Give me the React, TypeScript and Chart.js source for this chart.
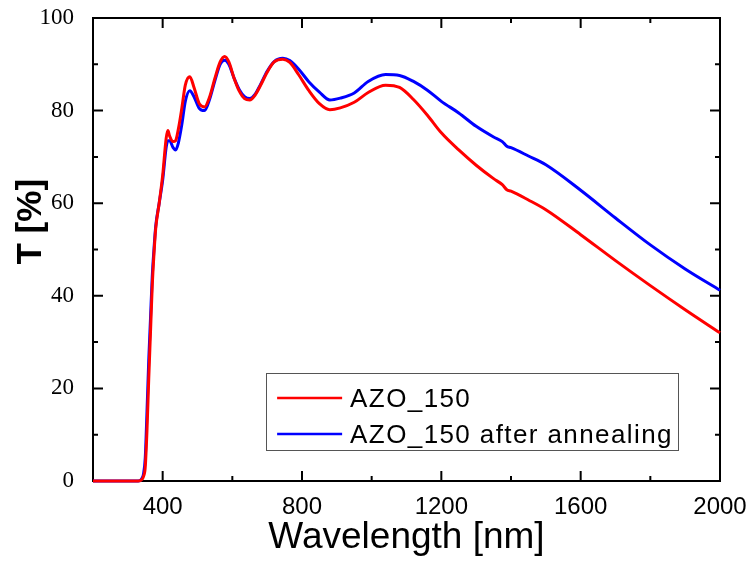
import React, { useEffect, useRef } from "react";
import { Chart, registerables } from "chart.js";

Chart.register(...registerables);

// Wavelength grid (nm)
const wavelengths = [
  200, 300, 330, 340, 345, 350, 355, 360, 365, 370, 375, 380, 390, 400, 410, 415, 420, 430, 437, 445,
  455, 465, 478, 490, 505, 520, 535, 550, 565, 578, 590, 605, 620, 635, 650, 665, 680, 700, 720, 745,
  765, 790, 820, 850, 880, 910, 950, 990, 1040, 1080, 1120, 1160, 1200, 1250, 1300, 1350, 1375, 1388,
  1400, 1450, 1500, 1600, 1700, 1800, 1900, 2000,
];

// Transmittance T [%] - AZO_150
const azo150 = [
  0, 0, 0, 0.3, 1, 3, 11, 22, 32, 42, 49, 54.5, 60, 66, 74, 75.7, 74.5, 73.3, 73.5, 76,
  80.5, 85.5, 87.3, 85, 81.5, 80.8, 83, 87, 90.5, 91.7, 90.5, 87, 84.2, 82.6, 82.3, 83.3, 85.3, 88.3, 90.5, 91.1,
  90.4, 87.8, 84.3, 81.5, 80.2, 80.6, 81.8, 83.9, 85.5, 85.0, 82.4, 79.0, 75.2, 71.5, 68.2, 65.3, 64.0, 62.9,
  62.6, 60.7, 58.6, 53.2, 47.6, 42.2, 37.0, 32.0,
];

// Transmittance T [%] - AZO_150 after annealing
const azo150Annealed = [
  0, 0, 0, 0.5, 1.5, 5, 15, 26, 35, 44, 50, 55, 60, 65, 72, 73.5, 73.5, 72, 71.5, 73,
  77, 82, 84.3, 83, 80.5, 80, 82.5, 86.5, 90, 90.9, 90, 87, 84.5, 83, 82.6, 83.5, 85.5, 88.5, 90.6, 91.3,
  90.8, 89.0, 86.2, 84.0, 82.3, 82.7, 83.8, 86.3, 87.8, 87.6, 86.3, 84.4, 82.0, 79.5, 76.6, 74.3, 73.3, 72.3,
  72.0, 70.2, 68.3, 62.8, 56.8, 51.0, 45.8, 41.2,
];

const seriesLabels = ["AZO_150", "AZO_150 after annealing"];
const seriesColors = ["#ff0000", "#0000ff"];

const xTickLabels = [400, 800, 1200, 1600, 2000];
const yTickLabels = [0, 20, 40, 60, 80, 100];

const xTitle = "Wavelength [nm]";
const yTitle = "T [%]";

const SANS = "'Liberation Sans', Arial, Helvetica, sans-serif";
const SERIF = "'Liberation Serif', 'Times New Roman', Times, serif";

const framePlugin = {
  id: "frameTicks",
  beforeDatasetsDraw(chart: any) {
    const { ctx, chartArea, scales } = chart;
    const { left, right, top, bottom } = chartArea;
    const xs = scales.x;
    const ys = scales.y;
    ctx.save();
    ctx.strokeStyle = "#000";
    ctx.lineWidth = 2;
    ctx.strokeRect(left, top, right - left, bottom - top);
    ctx.beginPath();
    for (let v = 200; v <= 2000; v += 200) {
      const px = xs.getPixelForValue(v);
      const len = xTickLabels.includes(v) ? 10 : 5;
      ctx.moveTo(px, bottom);
      ctx.lineTo(px, bottom - len);
      ctx.moveTo(px, top);
      ctx.lineTo(px, top + len);
    }
    for (let v = 0; v <= 100; v += 10) {
      const py = ys.getPixelForValue(v);
      const len = yTickLabels.includes(v) ? 10 : 5;
      ctx.moveTo(left, py);
      ctx.lineTo(left + len, py);
      ctx.moveTo(right, py);
      ctx.lineTo(right - len, py);
    }
    ctx.stroke();
    ctx.restore();
  },
  afterDraw(chart: any) {
    const { ctx, chartArea, scales } = chart;
    const { left, right, bottom } = chartArea;
    ctx.save();
    ctx.fillStyle = "#000";
    // X title
    ctx.font = `37px ${SANS}`;
    ctx.textAlign = "center";
    ctx.textBaseline = "alphabetic";
    ctx.fillText(xTitle, (left + right) / 2, bottom + 67);
    // Y title
    ctx.save();
    ctx.translate(31, scales.y.getPixelForValue(56));
    ctx.rotate(-Math.PI / 2);
    ctx.font = `bold 35px ${SANS}`;
    ctx.textAlign = "center";
    ctx.textBaseline = "middle";
    ctx.fillText(yTitle, 0, 0);
    ctx.restore();

    // Legend
    const bx = scales.x.getPixelForValue(697);
    const bx2 = scales.x.getPixelForValue(1880);
    const by = scales.y.getPixelForValue(23.3);
    const by2 = scales.y.getPixelForValue(6.7);
    ctx.strokeStyle = "#555";
    ctx.lineWidth = 1;
    ctx.strokeRect(Math.round(bx) + 0.5, Math.round(by) + 0.5, Math.round(bx2 - bx), Math.round(by2 - by));
    ctx.font = `26px ${SANS}`;
    (ctx as any).letterSpacing = "1.4px";
    ctx.textAlign = "left";
    ctx.textBaseline = "alphabetic";
    chart.data.datasets.forEach((ds: any, i: number) => {
      const baseline = by + 34 + i * 36;
      ctx.strokeStyle = ds.borderColor;
      ctx.lineWidth = 2.5;
      ctx.beginPath();
      ctx.moveTo(bx + 11, baseline - 9);
      ctx.lineTo(bx + 76, baseline - 9);
      ctx.stroke();
      ctx.fillStyle = "#000";
      ctx.fillText(ds.label, bx + 84, baseline);
    });
    ctx.restore();
  },
};

export default function App() {
  const canvasRef = useRef<HTMLCanvasElement | null>(null);

  useEffect(() => {
    document.body.style.margin = "0";
    const canvas = canvasRef.current;
    if (!canvas) return;
    const datasets = [azo150, azo150Annealed].map((vals, i) => ({
      label: seriesLabels[i],
      data: wavelengths.map((w, j) => ({ x: w, y: vals[j] })),
      borderColor: seriesColors[i],
      backgroundColor: seriesColors[i],
      borderWidth: 3,
      pointRadius: 0,
      cubicInterpolationMode: "monotone" as const,
      fill: false,
      clip: 4,
    }));
    const chart = new Chart(canvas, {
      type: "line",
      data: { datasets },
      options: {
        animation: false,
        responsive: false,
        devicePixelRatio: 1,
        layout: { padding: { top: 18, right: 29, left: 0, bottom: 0 } },
        plugins: { legend: { display: false }, tooltip: { enabled: false } },
        scales: {
          x: {
            type: "linear",
            min: 200,
            max: 2000,
            grid: { display: false },
            border: { display: false },
            ticks: {
              stepSize: 200,
              autoSkip: false,
              maxRotation: 0,
              padding: 4,
              color: "#000",
              font: { family: SANS, size: 24 },
              callback: (v: any) => (xTickLabels.includes(Number(v)) ? String(v) : ""),
            },
            afterFit: (scale: any) => {
              scale.height = 86;
              scale.paddingLeft = 0;
              scale.paddingRight = 0;
            },
          },
          y: {
            type: "linear",
            min: 0,
            max: 100,
            grid: { display: false },
            border: { display: false },
            ticks: {
              stepSize: 10,
              autoSkip: false,
              padding: 11,
              color: "#000",
              font: { family: SERIF, size: 23 },
              callback: (v: any) => (yTickLabels.includes(Number(v)) ? String(v) : ""),
            },
            afterFit: (scale: any) => {
              scale.width = 93;
              scale.paddingTop = 0;
              scale.paddingBottom = 0;
            },
          },
        },
      },
      plugins: [framePlugin],
    });
    return () => chart.destroy();
  }, []);

  return (
    <div style={{ width: 749, height: 567 }}>
      <canvas ref={canvasRef} width={749} height={567} style={{ display: "block" }} />
    </div>
  );
}
